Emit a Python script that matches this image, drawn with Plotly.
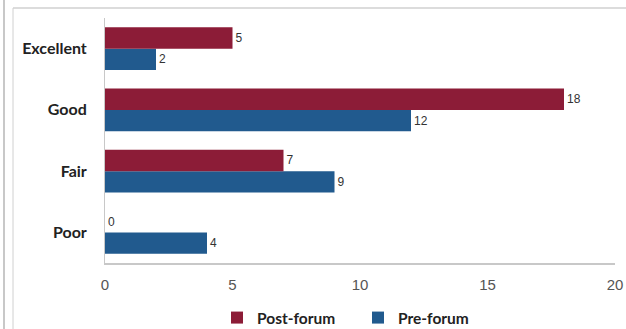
import plotly.graph_objects as go

categories = ["Excellent", "Good", "Fair", "Poor"]
post_forum = [5, 18, 7, 0]
pre_forum = [2, 12, 9, 4]
x_ticks = [0, 5, 10, 15, 20]

post_color = "#8c1c37"
pre_color = "#215a8e"

W, H = 626, 329
L, R, T, B = 105, 11, 18, 66
pw = W - L - R
ph = H - T - B


def px_x(x):
    return (x - L) / pw


def px_y(y):
    return 1 - (y - T) / ph


fig = go.Figure()
fig.add_trace(go.Bar(
    name="Pre-forum", y=categories, x=pre_forum, orientation="h",
    marker=dict(color=pre_color, line=dict(width=0)), text=pre_forum, textposition="outside",
    textfont=dict(family="Liberation Sans, Arial", size=12, color="#333"),
    cliponaxis=False,
))
fig.add_trace(go.Bar(
    name="Post-forum", y=categories, x=post_forum, orientation="h",
    marker=dict(color=post_color, line=dict(width=0)), text=post_forum, textposition="outside",
    textfont=dict(family="Liberation Sans, Arial", size=12, color="#333"),
    cliponaxis=False,
))

fig.update_layout(
    width=W, height=H,
    margin=dict(l=L, r=R, t=T, b=B, autoexpand=False),
    paper_bgcolor="white", plot_bgcolor="white",
    barmode="group", bargap=0.3, bargroupgap=0.0,
    showlegend=True,
    legend=dict(orientation="h", x=px_x(217), xanchor="left", y=px_y(301), yanchor="top",
                traceorder="reversed",
                font=dict(family="Lato", size=15.5, color="#222", weight="bold"),
                itemwidth=30, entrywidth=96, entrywidthmode="pixels"),
    xaxis=dict(range=[0, 20], tickvals=x_ticks, showgrid=False, zeroline=False,
               showline=True, linecolor="#c8c8c8", linewidth=1.5,
               ticks="", ticklabelstandoff=7,
               tickfont=dict(family="Liberation Sans, Arial", size=15, color="#555")),
    yaxis=dict(categoryorder="array", categoryarray=categories[::-1],
               showgrid=False, zeroline=False, showline=True, linecolor="#c8c8c8",
               linewidth=1, ticks="", ticklabelstandoff=14,
               tickfont=dict(family="Lato", size=16, color="#222", weight="bold")),
    shapes=[
        dict(type="line", xref="paper", yref="paper", x0=px_x(4), x1=px_x(4), y0=px_y(329), y1=px_y(0),
             line=dict(color="#c8c8c8", width=2)),
        dict(type="line", xref="paper", yref="paper", x0=px_x(13), x1=px_x(13), y0=px_y(329), y1=px_y(8),
             line=dict(color="#d0d0d0", width=1)),
        dict(type="line", xref="paper", yref="paper", x0=px_x(13), x1=px_x(626), y0=px_y(8), y1=px_y(8),
             line=dict(color="#d0d0d0", width=1.5)),
    ],
)

fig.write_html("out.html")
